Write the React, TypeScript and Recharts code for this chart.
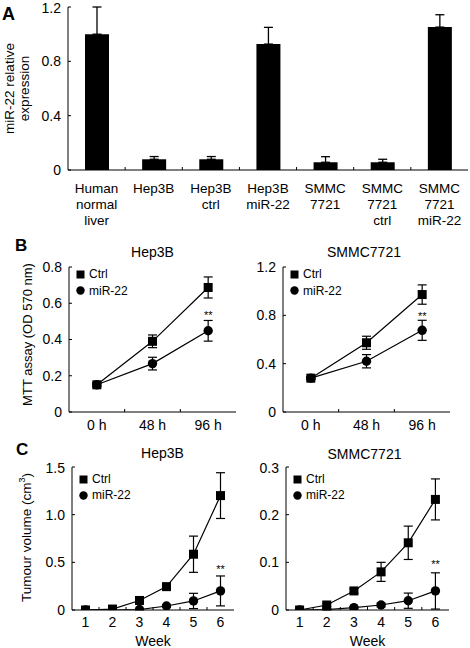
import React from "react";
import {
  BarChart,
  Bar,
  LineChart,
  Line,
  XAxis,
  YAxis,
  ErrorBar,
  Legend,
  Label,
  ReferenceDot,
} from "recharts";

const FONT = '"Liberation Sans", Arial, Helvetica, sans-serif';

// A: miR-22 relative expression
const exprLabels = [
  "Human\nnormal\nliver",
  "Hep3B",
  "Hep3B\nctrl",
  "Hep3B\nmiR-22",
  "SMMC\n7721",
  "SMMC\n7721\nctrl",
  "SMMC\n7721\nmiR-22",
];
const exprMean = [1.0, 0.079, 0.079, 0.927, 0.057, 0.057, 1.052];
const exprErr = [0.2, 0.02, 0.02, 0.123, 0.041, 0.022, 0.091];
const exprTicks = [0, 0.4, 0.8, 1.2];

// B: MTT assay
const mttTimes = ["0 h", "48 h", "96 h"];
const hep3bMttCtrl = [0.15, 0.39, 0.687];
const hep3bMttCtrlErr = [0.01, 0.035, 0.058];
const hep3bMttMir = [0.15, 0.267, 0.448];
const hep3bMttMirErr = [0.01, 0.035, 0.057];
const hep3bMttTicks = [0, 0.2, 0.4, 0.6, 0.8];
const smmcMttCtrl = [0.28, 0.573, 0.972];
const smmcMttCtrlErr = [0.01, 0.054, 0.08];
const smmcMttMir = [0.28, 0.42, 0.676];
const smmcMttMirErr = [0.01, 0.055, 0.083];
const smmcMttTicks = [0, 0.4, 0.8, 1.2];

// C: tumour volume
const weeks = [1, 2, 3, 4, 5, 6];
const hep3bVolCtrl = [0, 0.01, 0.1, 0.245, 0.585, 1.2];
const hep3bVolCtrlErr = [0, 0.005, 0.015, 0.025, 0.19, 0.24];
const hep3bVolMir = [0, 0, 0.005, 0.042, 0.095, 0.2];
const hep3bVolMirErr = [0, 0, 0.004, 0.01, 0.08, 0.157];
const hep3bVolTicks = [0, 0.5, 1.0, 1.5];
const smmcVolCtrl = [0, 0.0105, 0.04, 0.08, 0.141, 0.232];
const smmcVolCtrlErr = [0, 0.003, 0.005, 0.02, 0.035, 0.043];
const smmcVolMir = [0, 0.001, 0.005, 0.0105, 0.0195, 0.04];
const smmcVolMirErr = [0, 0.001, 0.002, 0.004, 0.016, 0.038];
const smmcVolTicks = [0, 0.1, 0.2, 0.3];

// "**" significance marks (x category, y value)
const hep3bMttSig = { x: "96 h", y: 0.535 };
const smmcMttSig = { x: "96 h", y: 0.797 };
const hep3bVolSig = { x: 6, y: 0.426 };
const smmcVolSig = { x: 6, y: 0.096 };

const exprData = exprLabels.map((name, i) => ({
  name,
  value: exprMean[i],
  err: [0, exprErr[i]],
}));

function buildRows(xs: any[], ctrl: number[], ctrlErr: number[], mir: number[], mirErr: number[]) {
  return xs.map((x, i) => ({
    x,
    ctrl: ctrl[i],
    ctrlErr: ctrlErr[i],
    mir: mir[i],
    mirErr: mirErr[i],
  }));
}

const fmt = (v: number) => (v === 0 ? "0" : v.toFixed(1));

function SquareDot(props: any) {
  const { cx, cy, index } = props;
  return <rect key={`sq-${index}`} x={cx - 4.5} y={cy - 4.5} width={9} height={9} fill="#000" />;
}

function CircleDot(props: any) {
  const { cx, cy, index } = props;
  return <circle key={`ci-${index}`} cx={cx} cy={cy} r={4.7} fill="#000" />;
}

function makeCatTick(step: number, dyText: number, size: number) {
  return (props: any) => {
    const { x, y, payload, index } = props;
    const lines = String(payload.value).split("\n");
    return (
      <g>
        {index > 0 && (
          <line x1={x - step / 2} x2={x - step / 2} y1={y} y2={y - 3} stroke="#000" />
        )}
        <text x={x} y={y + dyText} textAnchor="middle" fontSize={size} fontFamily={FONT} fill="#000">
          {lines.map((l, i) => (
            <tspan key={i} x={x} dy={i === 0 ? 0 : 16}>
              {l}
            </tspan>
          ))}
        </text>
      </g>
    );
  };
}

function makeYTitle(lines: string[], baselines: number[], dy: number, size: number, sup?: string) {
  return (props: any) => {
    const vb = props.viewBox || {};
    const cy = vb.y + vb.height / 2 + dy;
    return (
      <g>
        {lines.map((l, i) => (
          <text
            key={i}
            transform={`translate(${baselines[i]},${cy}) rotate(-90)`}
            textAnchor="middle"
            fontSize={size}
            fontFamily={FONT}
            fill="#000"
          >
            {l}
            {sup && i === lines.length - 1 && (
              <>
                <tspan fontSize={9} dy={-6}>
                  {sup}
                </tspan>
                <tspan dy={6}>)</tspan>
              </>
            )}
          </text>
        ))}
      </g>
    );
  };
}

function makeXTitle(text: string, dyBase: number) {
  return (props: any) => {
    const vb = props.viewBox || {};
    return (
      <text x={vb.x + vb.width / 2} y={vb.y + dyBase} textAnchor="middle" fontSize={14} fontFamily={FONT} fill="#000">
        {text}
      </text>
    );
  };
}

function makeLegend(rowH: number) {
  return (props: any) => {
    const items = [...(props.payload || [])].sort((a: any, b: any) =>
      a.dataKey === "ctrl" ? -1 : b.dataKey === "ctrl" ? 1 : 0
    );
    return (
      <div style={{ fontFamily: FONT, fontSize: 12, color: "#000" }}>
        {items.map((it: any) => (
          <div key={it.value} style={{ display: "flex", alignItems: "center", height: rowH }}>
            <svg width={9} height={9} style={{ marginRight: 4, flex: "none" }}>
              {it.dataKey === "ctrl" ? (
                <rect x={0.5} y={0.5} width={8} height={8} fill="#000" />
              ) : (
                <circle cx={4.5} cy={4.5} r={4.2} fill="#000" />
              )}
            </svg>
            <span>{it.value}</span>
          </div>
        ))}
      </div>
    );
  };
}

type PanelProps = {
  data: any[];
  left: number;
  top: number;
  width: number;
  height: number;
  yWidth: number;
  mt: number;
  mr: number;
  xHeight: number;
  ticks: number[];
  sig: { x: any; y: number };
  legendTop: number;
  rowH: number;
  tickDy: number;
  yTitle?: any;
  xTitle?: any;
};

function GrowthPanel(p: PanelProps) {
  const plotW = p.width - p.yWidth - p.mr;
  const n = p.data.length;
  const step = plotW / n;
  const axisStyle = { stroke: "#000", strokeWidth: 1 };
  return (
    <div style={{ position: "absolute", left: p.left, top: p.top }}>
      <LineChart
        width={p.width}
        height={p.height}
        data={p.data}
        margin={{ top: p.mt, right: p.mr, bottom: 0, left: 0 }}
      >
        <XAxis
          dataKey="x"
          type="category"
          height={p.xHeight}
          padding={{ left: step / 2, right: step / 2 }}
          axisLine={axisStyle}
          tickLine={false}
          tickSize={0}
          tickMargin={0}
          interval={0}
          tick={makeCatTick(step, p.tickDy, 14)}
        >
          {p.xTitle && <Label content={p.xTitle} />}
        </XAxis>
        <YAxis
          width={p.yWidth}
          domain={[p.ticks[0], p.ticks[p.ticks.length - 1]]}
          ticks={p.ticks}
          allowDataOverflow
          tickFormatter={fmt}
          axisLine={axisStyle}
          tickLine={axisStyle}
          tickSize={-3}
          tickMargin={10}
          tick={{ fontSize: 14, fontFamily: FONT, fill: "#000" }}
        >
          {p.yTitle && <Label content={p.yTitle} />}
        </YAxis>
        <Legend
          layout="vertical"
          align="center"
          verticalAlign="middle"
          content={makeLegend(p.rowH)}
          wrapperStyle={{ left: p.yWidth + 7, top: p.mt + p.legendTop, width: 80, height: "auto" }}
        />
        <Line
          dataKey="mir"
          name="miR-22"
          stroke="#000"
          strokeWidth={1.2}
          dot={CircleDot}
          activeDot={false}
          isAnimationActive={false}
        >
          <ErrorBar dataKey="mirErr" direction="y" width={4.5} stroke="#000" strokeWidth={1.2} />
        </Line>
        <Line
          dataKey="ctrl"
          name="Ctrl"
          stroke="#000"
          strokeWidth={1.2}
          dot={SquareDot}
          activeDot={false}
          isAnimationActive={false}
        >
          <ErrorBar dataKey="ctrlErr" direction="y" width={4.5} stroke="#000" strokeWidth={1.2} />
        </Line>
        <ReferenceDot
          x={p.sig.x}
          y={p.sig.y}
          r={0}
          fill="none"
          stroke="none"
          label={{ value: "**", position: "center", fontSize: 11, fontFamily: FONT, fill: "#000" }}
        />
      </LineChart>
    </div>
  );
}

const EXPR_W = 470;
const EXPR_Y_W = 68;
const EXPR_MR = 2;
const EXPR_BAND = (EXPR_W - EXPR_Y_W - EXPR_MR) / exprLabels.length;

function ExpressionPanel() {
  const axisStyle = { stroke: "#000", strokeWidth: 1 };
  return (
    <div style={{ position: "absolute", left: 0, top: 0 }}>
      <BarChart
        width={EXPR_W}
        height={235}
        data={exprData}
        margin={{ top: 7, right: EXPR_MR, bottom: 0, left: 0 }}
      >
        <XAxis
          dataKey="name"
          height={65}
          axisLine={axisStyle}
          tickLine={false}
          tickSize={0}
          tickMargin={0}
          interval={0}
          tick={makeCatTick(EXPR_BAND, 23, 13.5)}
        />
        <YAxis
          width={EXPR_Y_W}
          domain={[0, 1.2]}
          ticks={exprTicks}
          allowDataOverflow
          tickFormatter={fmt}
          axisLine={axisStyle}
          tickLine={axisStyle}
          tickSize={-3}
          tickMargin={10}
          tick={{ fontSize: 14, fontFamily: FONT, fill: "#000" }}
        >
          <Label content={makeYTitle(["miR-22 relative", "expression"], [14, 28.5], 0, 13.5)} />
        </YAxis>
        <Bar dataKey="value" fill="#000" barSize={24} isAnimationActive={false}>
          <ErrorBar dataKey="err" direction="y" width={4.5} stroke="#000" strokeWidth={1.3} />
        </Bar>
      </BarChart>
    </div>
  );
}

export default function App() {
  const hep3bMtt = buildRows(mttTimes, hep3bMttCtrl, hep3bMttCtrlErr, hep3bMttMir, hep3bMttMirErr);
  const smmcMtt = buildRows(mttTimes, smmcMttCtrl, smmcMttCtrlErr, smmcMttMir, smmcMttMirErr);
  const hep3bVol = buildRows(weeks, hep3bVolCtrl, hep3bVolCtrlErr, hep3bVolMir, hep3bVolMirErr);
  const smmcVol = buildRows(weeks, smmcVolCtrl, smmcVolCtrlErr, smmcVolMir, smmcVolMirErr);

  const txt = { fontFamily: FONT, fill: "#000" };

  return (
    <div
      style={{
        position: "absolute",
        left: 0,
        top: 0,
        width: 470,
        height: 648,
        background: "#fff",
        overflow: "hidden",
      }}
    >
      <ExpressionPanel />
      <GrowthPanel
        data={hep3bMtt}
        left={0}
        top={256}
        width={240}
        height={186}
        yWidth={69}
        mt={11}
        mr={4}
        xHeight={30}
        ticks={hep3bMttTicks}
        sig={hep3bMttSig}
        legendTop={-1}
        rowH={16.5}
        tickDy={18}
        yTitle={makeYTitle(["MTT assay (OD 570 nm)"], [31.5], -5, 13)}
      />
      <GrowthPanel
        data={smmcMtt}
        left={214}
        top={256}
        width={240}
        height={186}
        yWidth={69}
        mt={11}
        mr={4}
        xHeight={30}
        ticks={smmcMttTicks}
        sig={smmcMttSig}
        legendTop={-1}
        rowH={16.5}
        tickDy={18}
      />
      <GrowthPanel
        data={hep3bVol}
        left={0}
        top={460}
        width={238}
        height={188}
        yWidth={72}
        mt={7}
        mr={4}
        xHeight={38}
        ticks={hep3bVolTicks}
        sig={hep3bVolSig}
        legendTop={4}
        rowH={16}
        tickDy={17}
        yTitle={makeYTitle(["Tumour volume (cm"], [31], -1, 13.5, "3")}
        xTitle={makeXTitle("Week", 35.5)}
      />
      <GrowthPanel
        data={smmcVol}
        left={214}
        top={460}
        width={240}
        height={188}
        yWidth={72}
        mt={7}
        mr={5}
        xHeight={38}
        ticks={smmcVolTicks}
        sig={smmcVolSig}
        legendTop={4}
        rowH={16}
        tickDy={17}
        xTitle={makeXTitle("Week", 35.5)}
      />
      <svg
        width={470}
        height={648}
        style={{ position: "absolute", left: 0, top: 0, pointerEvents: "none" }}
      >
        <text x={2} y={20} fontSize={18} fontWeight="bold" {...txt}>A</text>
        <text x={15} y={251} fontSize={17} fontWeight="bold" {...txt}>B</text>
        <text x={16} y={455} fontSize={17} fontWeight="bold" {...txt}>C</text>
        <text x={152.5} y={257} fontSize={14} textAnchor="middle" {...txt}>Hep3B</text>
        <text x={364} y={257} fontSize={14} textAnchor="middle" {...txt}>SMMC7721</text>
        <text x={162.5} y={458} fontSize={14} textAnchor="middle" {...txt}>Hep3B</text>
        <text x={364.5} y={459} fontSize={14} textAnchor="middle" {...txt}>SMMC7721</text>
      </svg>
    </div>
  );
}
